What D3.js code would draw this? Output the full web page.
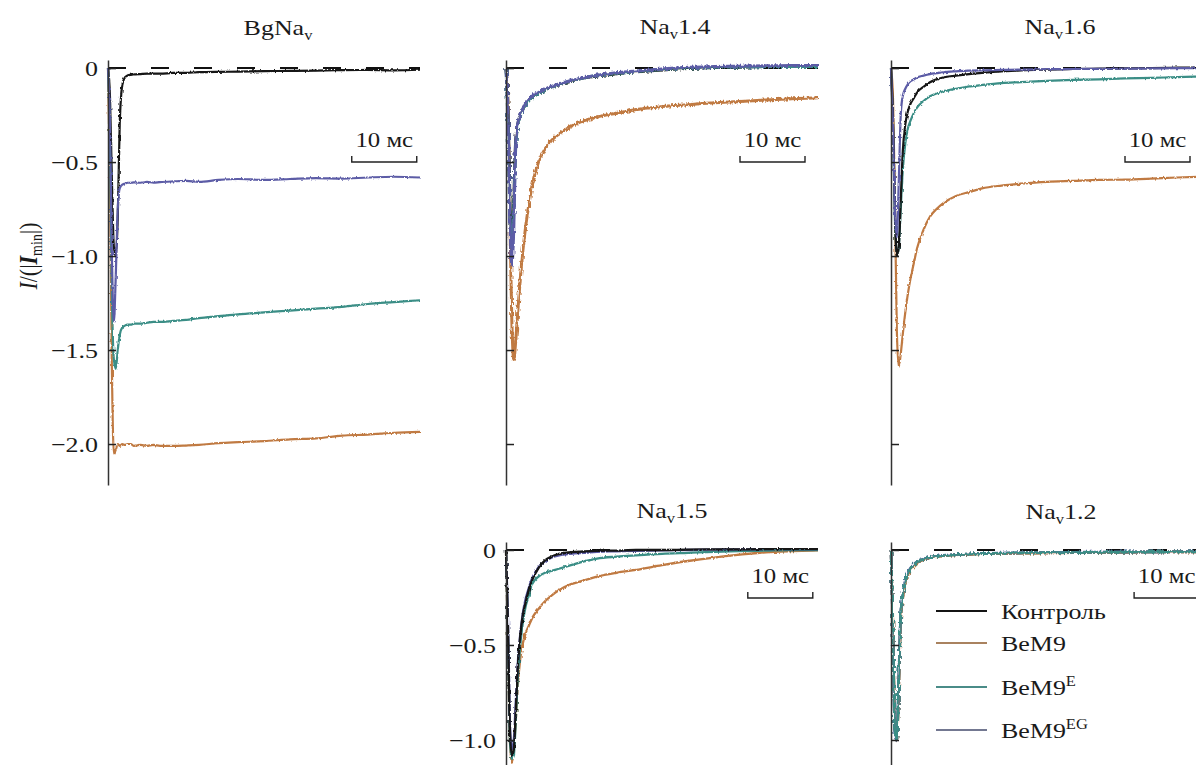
<!DOCTYPE html>
<html><head><meta charset="utf-8">
<script src="https://cdn.jsdelivr.net/npm/d3@7"></script>
<style>
body{margin:0;background:#fff}
svg{display:block}
text{font-family:"Liberation Serif","Times New Roman",serif;fill:#1a1a1a}
</style>
</head><body>
<svg id="c" width="1196" height="765"></svg>
<script>
// ---------------- data ----------------
const timeMs = [0,0.3,0.6,0.9,1.2,1.5,1.8,2.2,2.6,3,3.5,4,5,6,7,8,10,12,14,17,20,24,28,32,36,40,44,48];
const seriesNames = ["Контроль","BeM9","BeM9E","BeM9EG"];
const seriesLabelMain = ["Контроль","BeM9","BeM9","BeM9"];
const seriesLabelSup = ["","","E","EG"];
const seriesColors = ["#141414","#c07a42","#3a8e86","#5c5ca6"];
const legendColors = ["#141414","#a9825f","#4a8c88","#737891"];
const panelTitleMain = ["BgNa","Na","Na","Na","Na"];
const panelTitleSub = ["v","v","v","v","v"];
const panelTitleTail = ["","1.4","1.6","1.5","1.2"];
const topTicks = [0,-0.5,-1,-1.5,-2];
const topTickLabels = ["0","−0.5","−1.0","−1.5","−2.0"];
const bottomTicks = [0,-0.5,-1];
const bottomTickLabels = ["0","−0.5","−1.0"];
const scaleBarMs = 10;
const scaleBarLabel = "10 мс";

// BgNav
const bgNavControl = [0,-0.15,-0.6,-0.95,-1.0,-0.8,-0.3,-0.09,-0.05,-0.04,-0.036,-0.034,-0.032,-0.03,-0.029,-0.03,-0.026,-0.025,-0.022,-0.02,-0.019,-0.016,-0.015,-0.013,-0.011,-0.01,-0.012,-0.009];
const bgNavBeM9 = [0,-0.6,-1.6,-2.05,-2.03,-2.0,-2.01,-2.0,-2.005,-2.0,-2.0,-2.01,-2.005,-2.01,-2.005,-2.01,-2.01,-2.008,-2.005,-1.995,-1.99,-1.985,-1.975,-1.97,-1.955,-1.95,-1.94,-1.935];
const bgNavBeM9E = [0,-0.4,-1.2,-1.55,-1.6,-1.5,-1.42,-1.38,-1.37,-1.365,-1.365,-1.36,-1.36,-1.355,-1.35,-1.35,-1.345,-1.34,-1.33,-1.32,-1.31,-1.3,-1.29,-1.28,-1.27,-1.255,-1.245,-1.235];
const bgNavBeM9EG = [0,-0.3,-1.0,-1.35,-1.1,-0.75,-0.64,-0.62,-0.615,-0.61,-0.61,-0.608,-0.61,-0.605,-0.61,-0.607,-0.603,-0.6,-0.605,-0.595,-0.59,-0.595,-0.59,-0.585,-0.588,-0.582,-0.578,-0.582];
// Nav1.4
const nav14Control = [0,-0.2,-0.7,-1.0,-0.7,-0.38,-0.3,-0.25,-0.22,-0.19,-0.17,-0.155,-0.135,-0.115,-0.1,-0.09,-0.07,-0.052,-0.042,-0.03,-0.02,-0.01,-0.002,0.003,0.005,0.008,0.01,0.01];
const nav14BeM9 = [0,-0.2,-0.8,-1.35,-1.55,-1.45,-1.3,-1.12,-0.97,-0.85,-0.73,-0.63,-0.5,-0.43,-0.385,-0.355,-0.31,-0.28,-0.26,-0.24,-0.22,-0.205,-0.195,-0.185,-0.178,-0.17,-0.163,-0.158];
const nav14BeM9E = [0,-0.3,-0.8,-0.95,-0.75,-0.42,-0.31,-0.255,-0.22,-0.195,-0.175,-0.155,-0.135,-0.115,-0.1,-0.088,-0.068,-0.052,-0.04,-0.028,-0.018,-0.008,0.0,0.004,0.006,0.008,0.008,0.008];
const nav14BeM9EG = [0,-0.25,-0.8,-1.05,-0.85,-0.4,-0.3,-0.25,-0.215,-0.185,-0.165,-0.15,-0.13,-0.112,-0.098,-0.086,-0.066,-0.05,-0.038,-0.025,-0.015,-0.005,0.004,0.008,0.01,0.012,0.014,0.014];
// Nav1.6
const nav16Control = [0,-0.25,-0.75,-1.0,-0.95,-0.7,-0.45,-0.3,-0.23,-0.19,-0.16,-0.13,-0.1,-0.075,-0.06,-0.05,-0.04,-0.032,-0.026,-0.018,-0.012,-0.008,-0.005,-0.003,-0.002,0,0.002,0.003];
const nav16BeM9 = [0,-0.15,-0.7,-1.4,-1.59,-1.52,-1.42,-1.3,-1.2,-1.12,-1.04,-0.96,-0.86,-0.79,-0.75,-0.72,-0.68,-0.66,-0.64,-0.625,-0.615,-0.605,-0.6,-0.595,-0.593,-0.588,-0.582,-0.578];
const nav16BeM9E = [0,-0.3,-0.8,-1.0,-0.95,-0.75,-0.55,-0.4,-0.32,-0.28,-0.24,-0.21,-0.175,-0.15,-0.135,-0.125,-0.11,-0.098,-0.09,-0.08,-0.075,-0.068,-0.063,-0.06,-0.055,-0.052,-0.048,-0.045];
const nav16BeM9EG = [0,-0.3,-0.75,-0.9,-0.6,-0.25,-0.15,-0.11,-0.085,-0.07,-0.06,-0.05,-0.04,-0.032,-0.027,-0.022,-0.017,-0.014,-0.012,-0.01,-0.008,-0.006,-0.005,-0.004,-0.003,-0.002,0,0];
// Nav1.5
const nav15Control = [0,-0.4,-0.95,-1.08,-1.05,-0.85,-0.62,-0.45,-0.34,-0.28,-0.21,-0.16,-0.095,-0.055,-0.035,-0.022,-0.012,-0.008,-0.005,-0.003,0,0,0.002,0.003,0.003,0.004,0.005,0.005];
const nav15BeM9 = [0,-0.5,-1.0,-1.12,-1.05,-0.9,-0.72,-0.57,-0.49,-0.44,-0.4,-0.36,-0.31,-0.27,-0.24,-0.215,-0.18,-0.16,-0.14,-0.12,-0.105,-0.08,-0.058,-0.04,-0.025,-0.012,-0.006,-0.002];
const nav15BeM9E = [0,-0.45,-1.0,-1.1,-1.08,-0.9,-0.68,-0.5,-0.38,-0.3,-0.24,-0.18,-0.14,-0.12,-0.11,-0.1,-0.08,-0.06,-0.045,-0.035,-0.028,-0.02,-0.015,-0.01,-0.006,-0.003,0,0];
const nav15BeM9EG = [0,-0.35,-0.9,-1.05,-1.0,-0.8,-0.6,-0.44,-0.33,-0.26,-0.2,-0.15,-0.09,-0.06,-0.04,-0.03,-0.02,-0.015,-0.01,-0.007,-0.004,-0.002,0,0.002,0.003,0.004,0.004,0.005];
// Nav1.2
const nav12Control = [0,-0.4,-0.95,-1.0,-0.7,-0.35,-0.25,-0.17,-0.13,-0.1,-0.08,-0.065,-0.05,-0.04,-0.035,-0.03,-0.025,-0.022,-0.02,-0.018,-0.016,-0.015,-0.014,-0.012,-0.012,-0.01,-0.01,-0.01];
const nav12BeM9 = [0,-0.38,-0.93,-1.0,-0.72,-0.37,-0.26,-0.175,-0.135,-0.105,-0.085,-0.068,-0.052,-0.042,-0.036,-0.031,-0.026,-0.023,-0.02,-0.019,-0.017,-0.016,-0.014,-0.013,-0.012,-0.011,-0.01,-0.01];
const nav12BeM9E = [0,-0.42,-0.96,-1.0,-0.68,-0.34,-0.24,-0.165,-0.125,-0.098,-0.078,-0.063,-0.049,-0.04,-0.034,-0.029,-0.024,-0.021,-0.019,-0.017,-0.015,-0.014,-0.013,-0.012,-0.011,-0.01,-0.009,-0.009];
const nav12BeM9EG = [0,-0.45,-0.98,-1.0,-0.66,-0.33,-0.235,-0.16,-0.12,-0.095,-0.076,-0.062,-0.048,-0.039,-0.033,-0.028,-0.024,-0.021,-0.018,-0.016,-0.015,-0.013,-0.012,-0.011,-0.01,-0.01,-0.009,-0.008];

const panelSeries = [
  [bgNavControl,bgNavBeM9,bgNavBeM9E,bgNavBeM9EG],
  [nav14Control,nav14BeM9,nav14BeM9E,nav14BeM9EG],
  [nav16Control,nav16BeM9,nav16BeM9E,nav16BeM9EG],
  [nav15Control,nav15BeM9,nav15BeM9E,nav15BeM9EG],
  [nav12Control,nav12BeM9,nav12BeM9E,nav12BeM9EG]
];

// ---------------- layout ----------------
const SX = 1.18; // horizontal text stretch of the original figure
const svg = d3.select("#c");

const defs = svg.append("defs");
function noiseFilter(id, scale){
  const f = defs.append("filter").attr("id",id).attr("filterUnits","userSpaceOnUse")
    .attr("x",0).attr("y",0).attr("width",1196).attr("height",765);
  f.append("feTurbulence").attr("type","fractalNoise").attr("baseFrequency","0.6 0.25").attr("numOctaves",1).attr("seed",5).attr("result","t");
  f.append("feDisplacementMap").attr("in","SourceGraphic").attr("in2","t").attr("scale",scale).attr("xChannelSelector","R").attr("yChannelSelector","G");
}
noiseFilter("noiseSoft",3);
noiseFilter("noiseStrong",5);

const layout = [
  {ax:108, top:true,  titleX:278, titleY:35,  barT:37.5, labels:true,  noise:"noiseSoft",   sw:2.2, order:[1,0,2,3]},
  {ax:506, top:true,  titleX:675, titleY:34,  barT:36,   labels:false, noise:"noiseStrong", sw:3.0, order:[1,0,2,3]},
  {ax:891, top:true,  titleX:1060,titleY:34,  barT:36,   labels:false, noise:"noiseSoft",   sw:2.2, order:[1,2,0,3]},
  {ax:506, top:false, titleX:672, titleY:518, barT:37.2, labels:true,  noise:"noiseSoft",   sw:2.3, order:[1,2,3,0]},
  {ax:891, top:false, titleX:1061,titleY:519, barT:37.4, labels:false, noise:"noiseStrong", sw:2.6, order:[0,1,3,2]}
];

function stretchedText(g, x, y, anchor, size){
  return g.append("g").attr("transform",`translate(${x},${y}) scale(${SX},1)`)
    .append("text").attr("text-anchor",anchor).attr("font-size",size);
}

layout.forEach((L,i)=>{
  const g = svg.append("g");
  const x = d3.scaleLinear().domain([0,48]).range([L.ax, L.ax+312]);
  const y = L.top
    ? d3.scaleLinear().domain([0.043,-2.218]).range([60,485])
    : d3.scaleLinear().domain([0.042,-1.137]).range([542,766]);
  const ticks = L.top ? topTicks : bottomTicks;
  const tickLabels = L.top ? topTickLabels : bottomTickLabels;

  // dashed zero line
  g.append("line").attr("x1",x(0)).attr("x2",x(48)).attr("y1",y(0)).attr("y2",y(0))
    .attr("stroke","#111").attr("stroke-width",2).attr("stroke-dasharray","18,25");

  // traces
  const line = d3.line().x((d,k)=>x(timeMs[k])).y(d=>y(d)).curve(d3.curveMonotoneX);
  const tg = g.append("g").attr("filter",`url(#${L.noise})`);
  L.order.forEach(s=>{
    tg.append("path").datum(panelSeries[i][s])
      .attr("d",line).attr("fill","none")
      .attr("stroke",seriesColors[s]).attr("stroke-width",L.sw)
      .attr("stroke-linejoin","round");
  });

  // axis
  const axis = d3.axisRight(y).tickValues(ticks).tickSize(8).tickSizeOuter(0).tickFormat("");
  const ag = g.append("g").attr("transform",`translate(${L.ax},0)`).call(axis);
  ag.select(".domain").attr("stroke","#333").attr("stroke-width",1.5);
  ag.selectAll(".tick line").attr("stroke","#222").attr("stroke-width",1.5);

  if(L.labels){
    ticks.forEach((t,k)=>{
      stretchedText(g, L.ax-10, y(t), "end", 22).attr("dy","0.35em").text(tickLabels[k]);
    });
  }

  // title
  const tt = stretchedText(g, L.titleX, L.titleY, "middle", 22);
  tt.append("tspan").text(panelTitleMain[i]);
  tt.append("tspan").attr("font-size",14).attr("dy",5).text(panelTitleSub[i]);
  if(panelTitleTail[i]) tt.append("tspan").attr("dy",-5).text(panelTitleTail[i]);

  // scale bar
  const by = L.top ? 162 : 598;
  const bx0 = x(L.barT), bx1 = x(L.barT+scaleBarMs);
  g.append("path").attr("d",`M${bx0},${by-6}V${by}H${bx1}V${by-6}`)
    .attr("fill","none").attr("stroke","#222").attr("stroke-width",1.4);
  stretchedText(g, (bx0+bx1)/2, by-15, "middle", 21).text(scaleBarLabel);
});

// y-axis title
const yl = svg.append("g").attr("transform",`translate(37,256) scale(${SX},1) rotate(-90)`)
  .append("text").attr("text-anchor","middle").attr("font-size",22);
yl.append("tspan").attr("font-style","italic").text("I");
yl.append("tspan").text("/(|");
yl.append("tspan").attr("font-style","italic").attr("font-weight","bold").text("I");
yl.append("tspan").attr("font-size",14).attr("dy",4).text("min");
yl.append("tspan").attr("dy",-4).text("|)");

// legend
const legendY = [611,643,687,730];
seriesNames.forEach((n,s)=>{
  svg.append("line").attr("x1",936).attr("x2",987).attr("y1",legendY[s]).attr("y2",legendY[s])
    .attr("stroke",legendColors[s]).attr("stroke-width",2);
  const t = stretchedText(svg, 1001, legendY[s], "start", 22).attr("dy","0.35em");
  t.append("tspan").text(seriesLabelMain[s]);
  if(seriesLabelSup[s]) t.append("tspan").attr("font-size",14).attr("dy",-9).text(seriesLabelSup[s]);
});
</script>
</body></html>
